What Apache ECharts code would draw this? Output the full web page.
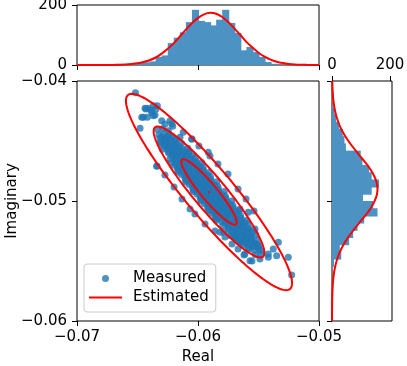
<!DOCTYPE html>
<html>
<head>
<meta charset="utf-8">
<script src="https://cdn.jsdelivr.net/npm/echarts@6/dist/echarts.min.js"></script>
<style>
  html, body { margin: 0; padding: 0; background: #fff; }
  #chart { width: 407px; height: 366px; }
</style>
</head>
<body>
<div id="chart"></div>
<script>
const measuredPoints = [
  [-0.06334,-0.04405],[-0.06292,-0.04398],
  [-0.06324,-0.04449],[-0.06282,-0.04441],[-0.06240,-0.04452],
  [-0.06314,-0.04482],[-0.06272,-0.04490],[-0.06230,-0.04479],[-0.06188,-0.04488],
  [-0.06304,-0.04521],[-0.06262,-0.04530],[-0.06220,-0.04523],[-0.06178,-0.04528],[-0.06136,-0.04519],
  [-0.06294,-0.04568],[-0.06252,-0.04561],[-0.06210,-0.04569],[-0.06168,-0.04562],[-0.06126,-0.04567],[-0.06084,-0.04560],
  [-0.06242,-0.04601],[-0.06200,-0.04609],[-0.06158,-0.04603],[-0.06116,-0.04608],[-0.06074,-0.04600],
  [-0.06232,-0.04648],[-0.06190,-0.04641],[-0.06148,-0.04649],[-0.06106,-0.04643],[-0.06064,-0.04647],[-0.06022,-0.04640],
  [-0.06222,-0.04681],[-0.06180,-0.04689],[-0.06138,-0.04683],[-0.06096,-0.04688],[-0.06054,-0.04682],[-0.06012,-0.04687],[-0.05970,-0.04680],
  [-0.06170,-0.04728],[-0.06128,-0.04721],[-0.06086,-0.04729],[-0.06044,-0.04722],[-0.06002,-0.04727],[-0.05960,-0.04720],
  [-0.06159,-0.04761],[-0.06117,-0.04769],[-0.06075,-0.04763],[-0.06033,-0.04768],[-0.05991,-0.04762],[-0.05949,-0.04767],[-0.05907,-0.04760],
  [-0.06107,-0.04808],[-0.06065,-0.04801],[-0.06023,-0.04809],[-0.05981,-0.04802],[-0.05939,-0.04807],[-0.05897,-0.04800],
  [-0.06097,-0.04841],[-0.06055,-0.04849],[-0.06013,-0.04843],[-0.05971,-0.04848],[-0.05929,-0.04842],[-0.05887,-0.04847],[-0.05845,-0.04840],
  [-0.06045,-0.04888],[-0.06003,-0.04881],[-0.05961,-0.04889],[-0.05919,-0.04882],[-0.05877,-0.04887],[-0.05835,-0.04880],
  [-0.06035,-0.04921],[-0.05993,-0.04929],[-0.05951,-0.04923],[-0.05909,-0.04928],[-0.05867,-0.04922],[-0.05825,-0.04927],[-0.05783,-0.04920],
  [-0.05983,-0.04968],[-0.05941,-0.04961],[-0.05899,-0.04969],[-0.05857,-0.04962],[-0.05815,-0.04967],[-0.05773,-0.04960],
  [-0.05973,-0.05001],[-0.05931,-0.05009],[-0.05889,-0.05003],[-0.05847,-0.05008],[-0.05805,-0.05002],[-0.05763,-0.05007],[-0.05721,-0.05000],
  [-0.05921,-0.05048],[-0.05879,-0.05041],[-0.05837,-0.05049],[-0.05795,-0.05042],[-0.05753,-0.05047],[-0.05711,-0.05040],
  [-0.05911,-0.05081],[-0.05869,-0.05089],[-0.05827,-0.05083],[-0.05785,-0.05088],[-0.05743,-0.05082],[-0.05701,-0.05087],[-0.05659,-0.05080],
  [-0.05859,-0.05128],[-0.05817,-0.05121],[-0.05775,-0.05129],[-0.05733,-0.05122],[-0.05691,-0.05127],[-0.05649,-0.05120],
  [-0.05848,-0.05161],[-0.05806,-0.05169],[-0.05764,-0.05163],[-0.05722,-0.05168],[-0.05680,-0.05162],[-0.05638,-0.05167],[-0.05596,-0.05160],
  [-0.05796,-0.05208],[-0.05754,-0.05201],[-0.05712,-0.05209],[-0.05670,-0.05202],[-0.05628,-0.05207],[-0.05586,-0.05200],
  [-0.05744,-0.05241],[-0.05702,-0.05249],[-0.05660,-0.05243],[-0.05618,-0.05248],[-0.05576,-0.05242],
  [-0.05734,-0.05288],[-0.05692,-0.05281],[-0.05650,-0.05289],[-0.05608,-0.05282],[-0.05566,-0.05287],[-0.05524,-0.05280],
  [-0.05682,-0.05321],[-0.05640,-0.05329],[-0.05598,-0.05323],[-0.05556,-0.05328],[-0.05514,-0.05322],
  [-0.05630,-0.05368],[-0.05588,-0.05361],[-0.05546,-0.05369],[-0.05504,-0.05362],
  [-0.05578,-0.05401],[-0.05536,-0.05409],[-0.05494,-0.05403],
  [-0.05526,-0.05448],[-0.05484,-0.05441],
  // in-between points where the core is solid
  [-0.06299,-0.04462],[-0.06257,-0.04468],[-0.06215,-0.04463],
  [-0.06310,-0.04508],[-0.06268,-0.04502],[-0.06226,-0.04507],[-0.06184,-0.04503],
  [-0.06278,-0.04542],[-0.06236,-0.04548],[-0.06194,-0.04543],[-0.06152,-0.04547],
  [-0.06247,-0.04588],[-0.06205,-0.04582],[-0.06163,-0.04587],[-0.06121,-0.04583],[-0.06079,-0.04588],
  [-0.06216,-0.04622],[-0.06174,-0.04628],[-0.06132,-0.04623],[-0.06090,-0.04627],[-0.06048,-0.04622],
  [-0.06185,-0.04668],[-0.06143,-0.04662],[-0.06101,-0.04667],[-0.06059,-0.04663],[-0.06017,-0.04668],
  [-0.06196,-0.04702],[-0.06154,-0.04708],[-0.06112,-0.04703],[-0.06070,-0.04707],[-0.06028,-0.04702],[-0.05986,-0.04708],
  [-0.06165,-0.04748],[-0.06123,-0.04742],[-0.06081,-0.04747],[-0.06039,-0.04743],[-0.05997,-0.04748],[-0.05955,-0.04742],
  [-0.06134,-0.04782],[-0.06092,-0.04788],[-0.06050,-0.04783],[-0.06008,-0.04787],[-0.05966,-0.04782],[-0.05924,-0.04788],
  [-0.06103,-0.04828],[-0.06061,-0.04822],[-0.06019,-0.04827],[-0.05977,-0.04823],[-0.05935,-0.04828],[-0.05893,-0.04822],
  [-0.06072,-0.04862],[-0.06030,-0.04868],[-0.05988,-0.04863],[-0.05946,-0.04867],[-0.05904,-0.04862],[-0.05862,-0.04868],
  [-0.06041,-0.04908],[-0.05999,-0.04902],[-0.05957,-0.04907],[-0.05915,-0.04903],[-0.05873,-0.04908],[-0.05831,-0.04902],
  [-0.06009,-0.04942],[-0.05967,-0.04948],[-0.05925,-0.04943],[-0.05883,-0.04947],[-0.05841,-0.04942],[-0.05799,-0.04948],
  [-0.05978,-0.04988],[-0.05936,-0.04982],[-0.05894,-0.04987],[-0.05852,-0.04983],[-0.05810,-0.04988],[-0.05768,-0.04982],
  [-0.05947,-0.05022],[-0.05905,-0.05028],[-0.05863,-0.05023],[-0.05821,-0.05027],[-0.05779,-0.05022],[-0.05737,-0.05028],
  [-0.05916,-0.05068],[-0.05874,-0.05062],[-0.05832,-0.05067],[-0.05790,-0.05063],[-0.05748,-0.05068],[-0.05706,-0.05062],
  [-0.05885,-0.05102],[-0.05843,-0.05108],[-0.05801,-0.05103],[-0.05759,-0.05107],[-0.05717,-0.05102],[-0.05675,-0.05108],
  [-0.05854,-0.05148],[-0.05812,-0.05142],[-0.05770,-0.05147],[-0.05728,-0.05143],[-0.05686,-0.05148],[-0.05644,-0.05142],
  [-0.05781,-0.05182],[-0.05739,-0.05188],[-0.05697,-0.05183],[-0.05655,-0.05187],[-0.05613,-0.05182],
  [-0.05750,-0.05228],[-0.05708,-0.05222],[-0.05666,-0.05227],[-0.05624,-0.05223],[-0.05582,-0.05228],
  [-0.05719,-0.05262],[-0.05677,-0.05268],[-0.05635,-0.05263],[-0.05593,-0.05267],[-0.05551,-0.05262],
  [-0.05688,-0.05308],[-0.05646,-0.05302],[-0.05604,-0.05307],[-0.05562,-0.05303],
  [-0.05657,-0.05342],[-0.05615,-0.05348],[-0.05573,-0.05343],[-0.05531,-0.05347],
  [-0.05584,-0.05388],[-0.05542,-0.05382],[-0.05500,-0.05387],
  // sparser points outside the core
  [-0.06517,-0.04097],[-0.06438,-0.04228],[-0.06411,-0.04228],[-0.06369,-0.04206],[-0.06336,-0.04206],
  [-0.06465,-0.04303],[-0.06419,-0.04303],[-0.06383,-0.04261],[-0.06355,-0.04283],[-0.06300,-0.04331],
  [-0.06273,-0.04358],[-0.06231,-0.04331],[-0.06479,-0.04394],[-0.06341,-0.04711],[-0.06209,-0.04378],
  [-0.06149,-0.04469],[-0.06052,-0.04483],[-0.05915,-0.04594],[-0.06122,-0.04428],
  [-0.06430,-0.04233],[-0.06388,-0.04242],[-0.06347,-0.04233],[-0.06369,-0.04289],[-0.06452,-0.04303],
  [-0.06217,-0.04358],[-0.06245,-0.04414],
  [-0.05336,-0.05344],[-0.05254,-0.05469],[-0.05226,-0.05617],[-0.05570,-0.05497],[-0.05488,-0.05483],
  [-0.05419,-0.05442],[-0.05378,-0.05400],[-0.05502,-0.05372],[-0.05653,-0.05344],[-0.05791,-0.05261],
  [-0.05708,-0.05289],[-0.05419,-0.05469],[-0.05474,-0.05414],[-0.05584,-0.05094],[-0.05529,-0.05233],
  [-0.05653,-0.05067],[-0.05818,-0.05261],[-0.05612,-0.05442],[-0.05350,-0.05456],
  [-0.05777,-0.05300],[-0.05719,-0.05358],[-0.05669,-0.05400],[-0.05620,-0.05450],[-0.05554,-0.05500],
  [-0.05686,-0.05317],[-0.05860,-0.05250],[-0.05942,-0.05192],[-0.06025,-0.05108],
  [-0.06050,-0.04483],[-0.05992,-0.04542],[-0.05901,-0.04625],[-0.05835,-0.04692],[-0.05752,-0.04775],
  [-0.05669,-0.04900],[-0.05603,-0.04983],[-0.05537,-0.05083],
  [-0.06339,-0.04708],[-0.06273,-0.04783],[-0.06198,-0.04883],[-0.06132,-0.04983],[-0.06066,-0.05067]
];

// estimated gaussian: mean and per-sigma semi-axis vectors (real, imag)
const ellipseCenter = [-0.05909, -0.04925];
const ellipseMajor = [0.002231, -0.002694];
const ellipseMinor = [0.000509, 0.000426];
const ellipseLevels = [1, 2, 3];

// top histogram (real part)
const topBinEdges = [-0.0655,-0.0650,-0.0645,-0.0640,-0.0635,-0.0630,-0.0625,-0.0620,-0.0615,-0.0610,-0.0605,-0.0600,
  -0.0595,-0.0590,-0.0585,-0.0580,-0.0575,-0.0570,-0.0565,-0.0560,-0.0555,-0.0550,-0.0545,-0.0540,-0.0535];
const topCounts = [4,7,9,12,27,32,73,91,109,143,184,147,143,132,151,184,140,107,49,60,43,27,10,4];
const topCurveReal = [-0.0700,-0.0695,-0.0690,-0.0685,-0.0680,-0.0675,-0.0670,-0.0665,-0.0660,-0.0655,-0.0650,
  -0.0645,-0.0640,-0.0635,-0.0630,-0.0625,-0.0620,-0.0615,-0.0610,-0.0605,-0.0600,-0.0595,-0.0590,-0.0585,-0.0580,
  -0.0575,-0.0570,-0.0565,-0.0560,-0.0555,-0.0550,-0.0545,-0.0540,-0.0535,-0.0530,-0.0525,-0.0520,-0.0515,-0.0510,-0.0505,-0.0500];
const topCurveCount = [0,0,0,0,0.1,0.2,0.4,0.9,1.7,3.3,5.8,10,16,25,38,54,73,95,118,139,157,169,174,171,160,
  143,122,100,77,58,41,28,18,11,6.5,3.6,1.9,1,0.5,0.2,0.1];

// right histogram (imaginary part)
const rightBinEdges = [-0.0422,-0.0428,-0.0434,-0.0440,-0.0446,-0.0452,-0.0458,-0.0464,-0.0470,-0.0476,-0.0482,-0.0488,
  -0.0494,-0.0500,-0.0506,-0.0512,-0.0518,-0.0524,-0.0530,-0.0536,-0.0542,-0.0548,-0.0554];
const rightCounts = [9,14,25,37,43,48,99,105,128,137,162,137,107,142,157,111,88,73,59,27,32,7];
const rightCurveImag = [-0.0400,-0.0405,-0.0410,-0.0415,-0.0420,-0.0425,-0.0430,-0.0435,-0.0440,-0.0445,-0.0450,
  -0.0455,-0.0460,-0.0465,-0.0470,-0.0475,-0.0480,-0.0485,-0.0490,-0.0495,-0.0500,-0.0505,-0.0510,-0.0515,-0.0520,
  -0.0525,-0.0530,-0.0535,-0.0540,-0.0545,-0.0550,-0.0555,-0.0560,-0.0565,-0.0570,-0.0575,-0.0580,-0.0585,-0.0590,-0.0595,-0.0600];
const rightCurveCount = [0.9,1.6,2.7,4.3,6.9,10.6,15.9,22.8,31.8,43,56.6,71.9,88.4,105,122,136,147,154.5,157,154.5,
  147,136,122,105,88.4,71.9,56.6,43,31.8,22.8,15.9,10.6,6.9,4.3,2.7,1.6,0.9,0.5,0.3,0.1,0.1];

const FONT = 'DejaVu Sans';
const BLUE = '#1f77b4';
const BAR_BLUE = '#4c92c3';   // tab:blue at alpha 0.8 over white
const fmt2 = v => v.toFixed(2).replace('-', '\u2212');

const tick = { show: true, length: 5, lineStyle: { color: '#000', width: 1 } };
const label = { color: '#000', fontSize: 15, fontFamily: FONT };
const gridBox = { show: true, borderColor: '#000', borderWidth: 1, backgroundColor: 'transparent', containLabel: false, outerBoundsMode: 'none' };

const chart = echarts.init(document.getElementById('chart'));

chart.setOption({
  animation: false,
  backgroundColor: '#fff',
  grid: [
    Object.assign({ left: 77, top: 81, width: 242, height: 240 }, gridBox),
    Object.assign({ left: 77, top: 5, width: 242, height: 60 }, gridBox),
    Object.assign({ left: 332, top: 81, width: 60, height: 240 }, gridBox)
  ],
  xAxis: [
    {
      gridIndex: 0, type: 'value', min: -0.07, max: -0.05, interval: 0.01,
      axisLine: { show: false }, axisTick: tick, splitLine: { show: false },
      axisLabel: Object.assign({ margin: 9, formatter: fmt2 }, label),
      name: 'Real', nameLocation: 'middle', nameGap: 29, nameMoveOverlap: false,
      nameTextStyle: { color: '#000', fontSize: 15, fontFamily: FONT }
    },
    {
      gridIndex: 1, type: 'value', min: -0.07, max: -0.05, interval: 0.01,
      axisLine: { show: false }, axisTick: tick, splitLine: { show: false },
      axisLabel: { show: false }
    },
    {
      gridIndex: 2, type: 'value', position: 'top', min: 0, max: 207,
      axisLine: { show: false }, splitLine: { show: false },
      axisTick: Object.assign({ customValues: [0, 200] }, tick),
      axisLabel: Object.assign({ margin: 8, customValues: [0, 200] }, label)
    }
  ],
  yAxis: [
    {
      gridIndex: 0, type: 'value', min: -0.06, max: -0.04, interval: 0.01,
      axisLine: { show: false }, axisTick: tick, splitLine: { show: false },
      axisLabel: Object.assign({ margin: 10, formatter: fmt2 }, label),
      name: 'Imaginary', nameLocation: 'middle', nameGap: 57, nameMoveOverlap: false,
      nameTextStyle: { color: '#000', fontSize: 15, fontFamily: FONT }
    },
    {
      gridIndex: 1, type: 'value', min: 0, max: 200, interval: 200,
      axisLine: { show: false }, axisTick: tick, splitLine: { show: false },
      axisLabel: Object.assign({ margin: 10 }, label)
    },
    {
      gridIndex: 2, type: 'value', min: -0.06, max: -0.04, interval: 0.01,
      axisLine: { show: false }, axisTick: tick, splitLine: { show: false },
      axisLabel: { show: false }
    }
  ],
  legend: {
    orient: 'vertical', left: 84, top: 264,
    data: [
      { name: 'Measured', icon: 'circle', itemStyle: { color: BLUE, opacity: 0.8 } },
      { name: 'Estimated', icon: 'path://M0,0H33V2H0Z', itemStyle: { color: 'red' } }
    ],
    itemWidth: 33, itemHeight: 7, itemGap: 4,
    padding: [7, 7, 7, 5],
    backgroundColor: 'rgba(255,255,255,0.8)',
    borderColor: '#cccccc', borderWidth: 1, borderRadius: 3,
    textStyle: { color: '#000', fontSize: 15, fontFamily: FONT, padding: [0, 0, 0, 6] }
  },
  series: [
    {
      name: 'Measured', type: 'scatter', xAxisIndex: 0, yAxisIndex: 0,
      data: measuredPoints, symbolSize: 7,
      itemStyle: { color: BLUE, opacity: 0.8 }, z: 2
    },
    {
      name: 'Estimated', type: 'custom', xAxisIndex: 0, yAxisIndex: 0,
      data: ellipseLevels.map(k => [ellipseCenter[0], ellipseCenter[1], k]),
      encode: { x: 0, y: 1 },
      itemStyle: { color: 'red' }, z: 3,
      renderItem: function (params, api) {
        const k = api.value(2);
        const pts = [];
        for (let i = 0; i <= 160; i++) {
          const t = i / 160 * 2 * Math.PI;
          pts.push(api.coord([
            ellipseCenter[0] + k * (ellipseMajor[0] * Math.cos(t) + ellipseMinor[0] * Math.sin(t)),
            ellipseCenter[1] + k * (ellipseMajor[1] * Math.cos(t) + ellipseMinor[1] * Math.sin(t))
          ]));
        }
        return { type: 'polygon', shape: { points: pts }, style: { fill: 'none', stroke: 'red', lineWidth: 2 } };
      }
    },
    {
      type: 'scatter', xAxisIndex: 0, yAxisIndex: 0,
      data: [ellipseCenter], symbolSize: 2.5, itemStyle: { color: 'red' }, z: 4, silent: true
    },
    {
      type: 'custom', xAxisIndex: 1, yAxisIndex: 1,
      data: topCounts.map((c, i) => [topBinEdges[i], topBinEdges[i + 1], c]),
      encode: { x: [0, 1], y: 2 },
      renderItem: function (params, api) {
        const a = api.coord([api.value(0), 0]);
        const b = api.coord([api.value(1), api.value(2)]);
        return {
          type: 'rect',
          shape: { x: a[0], y: b[1], width: b[0] - a[0] + 1, height: a[1] - b[1] },
          style: { fill: BAR_BLUE }
        };
      }
    },
    {
      type: 'line', xAxisIndex: 1, yAxisIndex: 1,
      data: topCurveReal.map((x, i) => [x, topCurveCount[i]]),
      symbol: 'none', smooth: 0.3, z: 3,
      lineStyle: { color: 'red', width: 2 }
    },
    {
      type: 'custom', xAxisIndex: 2, yAxisIndex: 2,
      data: rightCounts.map((c, i) => [rightBinEdges[i], rightBinEdges[i + 1], c]),
      encode: { x: 2, y: [0, 1] },
      renderItem: function (params, api) {
        const a = api.coord([0, api.value(0)]);
        const b = api.coord([api.value(2), api.value(1)]);
        return {
          type: 'rect',
          shape: { x: a[0], y: Math.min(a[1], b[1]), width: b[0] - a[0], height: Math.abs(b[1] - a[1]) + 1 },
          style: { fill: BAR_BLUE }
        };
      }
    },
    {
      type: 'line', xAxisIndex: 2, yAxisIndex: 2,
      data: rightCurveImag.map((y, i) => [rightCurveCount[i], y]),
      symbol: 'none', smooth: 0.3, z: 3,
      lineStyle: { color: 'red', width: 2 }
    }
  ]
});
</script>
</body>
</html>
